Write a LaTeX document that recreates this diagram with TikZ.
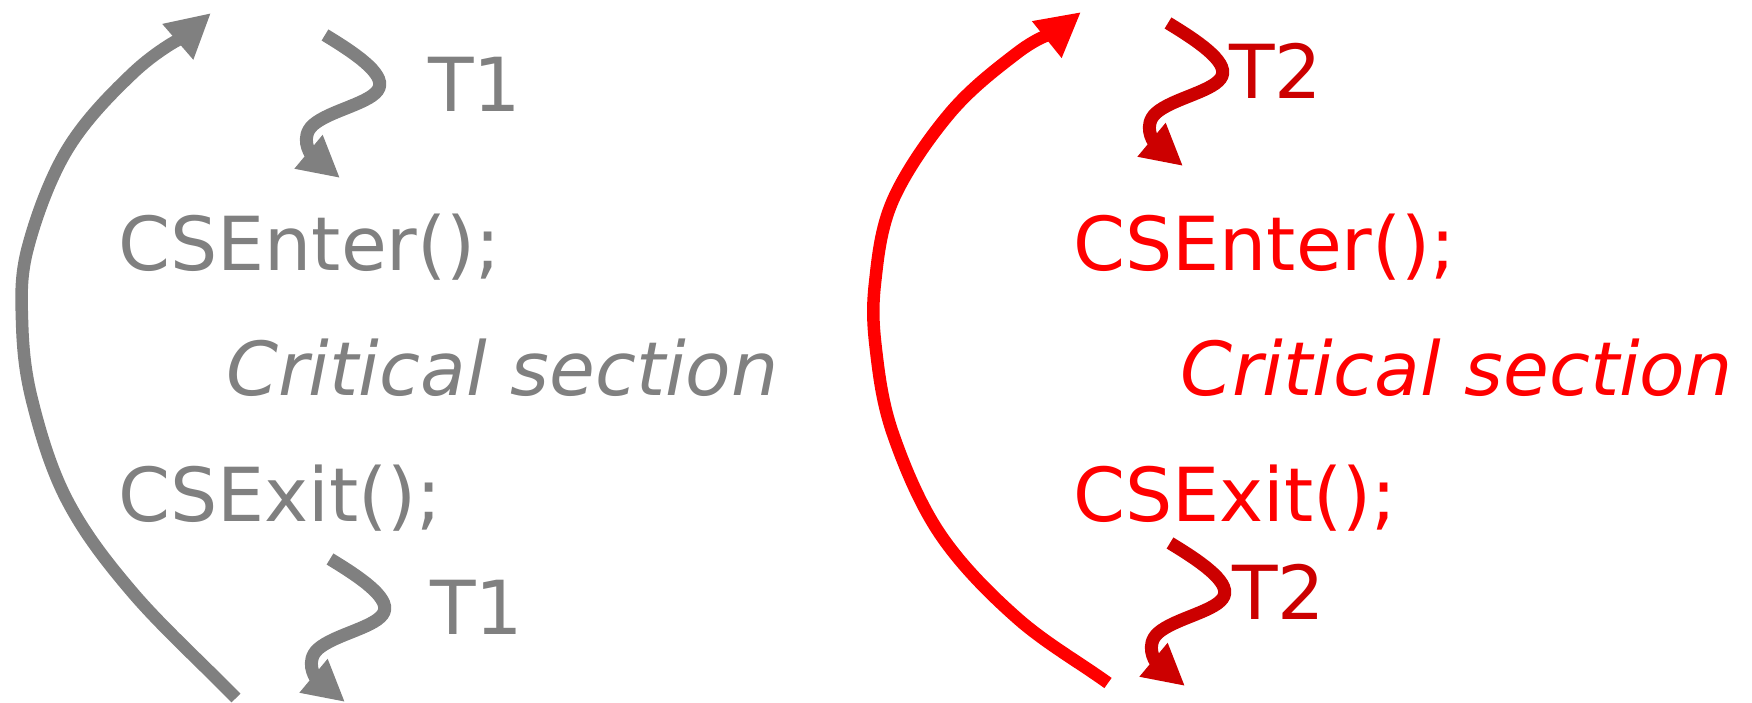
\documentclass[tikz,border=0pt]{standalone}
\usepackage{fontspec}
\setmainfont{DejaVu Sans}
\usetikzlibrary{arrows.meta}
\definecolor{cgray}{HTML}{808080}
\definecolor{cred}{HTML}{FF0000}
\definecolor{cdark}{HTML}{CC0000}
\begin{document}
\begin{tikzpicture}[x=1pt,y=-1pt,
  txt/.style={inner sep=0pt, anchor=base west, font=\fontsize{74.5pt}{80pt}\selectfont},
  bigarc/.style={line width=12.5pt, -{Triangle[length=44pt,width=44pt]}},
  squig/.style={line width=13pt, -{Triangle[length=41pt,width=41pt]}},
]
\useasboundingbox (0,0) rectangle (1752,702);

% ---------- left (gray) ----------
\node[txt, text=cgray] (enterL) at (118,270) {CSEnter();};
\node[txt, text=cgray] (critL) at (226,395) {\itshape Critical section};
\node[txt, text=cgray] (exitL) at (118,521) {CSExit();};
\node[txt, text=cgray] (t1top) at (428,111) {T1};
\node[txt, text=cgray] (t1bot) at (430,634) {T1};

\coordinate (arcLs) at (236,698);
\coordinate (arcLe) at (211,13);
\draw[bigarc, cgray] (arcLs)
  .. controls (201.7,663) and (161.2,626) .. (133,593)
  .. controls (104.8,560) and (83.8,532.2) .. (67,500)
  .. controls (50.2,467.8) and (39.5,430) .. (32,400)
  .. controls (24.5,370) and (22.7,345.5) .. (22,320)
  .. controls (21.3,294.5) and (20.5,275.3) .. (28,247)
  .. controls (35.5,218.7) and (49.5,179) .. (67,150)
  .. controls (84.5,121) and (109,95.8) .. (133,73)
  .. controls (157,50.2) and (186,34.7) .. (arcLe);

\coordinate (sqA) at (325,35);
\coordinate (sqB) at (330,559);
\foreach \s in {sqA,sqB}
  \draw[squig, cgray, shift={(\s)}] (0,0) .. controls (28,17) and (60,38) .. (54,53)
      .. controls (48,68) and (5,75) .. (-12,90)
      .. controls (-25,102) and (-15,118) .. (15,143);

% ---------- right (red) ----------
\node[txt, text=cred] (enterR) at (1073,270) {CSEnter();};
\node[txt, text=cred] (critR) at (1180,395) {\itshape Critical section};
\node[txt, text=cred] (exitR) at (1073,521) {CSExit();};
\node[txt, text=cdark] (t2top) at (1229,98) {T2};
\node[txt, text=cdark] (t2bot) at (1232,619) {T2};

\coordinate (arcRs) at (1108,683);
\coordinate (arcRe) at (1081,12);
\draw[bigarc, cred] (arcRs)
  .. controls (1077.7,661.3) and (1045,642.8) .. (1017,618)
  .. controls (989,593.2) and (960.7,564.7) .. (940,534)
  .. controls (919.3,503.3) and (903.7,464.7) .. (893,434)
  .. controls (882.3,403.3) and (879,375.2) .. (876,350)
  .. controls (873,324.8) and (872.2,308) .. (875,283)
  .. controls (877.8,258) and (880.5,228.3) .. (893,200)
  .. controls (905.5,171.7) and (929.3,137.5) .. (950,113)
  .. controls (970.7,88.5) and (995.2,69.8) .. (1017,53)
  .. controls (1038.8,36.2) and (1058.3,30.3) .. (arcRe);

\coordinate (sqC) at (1168,23);
\coordinate (sqD) at (1170,543);
\foreach \s in {sqC,sqD}
  \draw[squig, cdark, shift={(\s)}] (0,0) .. controls (28,17) and (60,38) .. (54,53)
      .. controls (48,68) and (5,75) .. (-12,90)
      .. controls (-25,102) and (-15,118) .. (15,143);
\end{tikzpicture}
\end{document}
